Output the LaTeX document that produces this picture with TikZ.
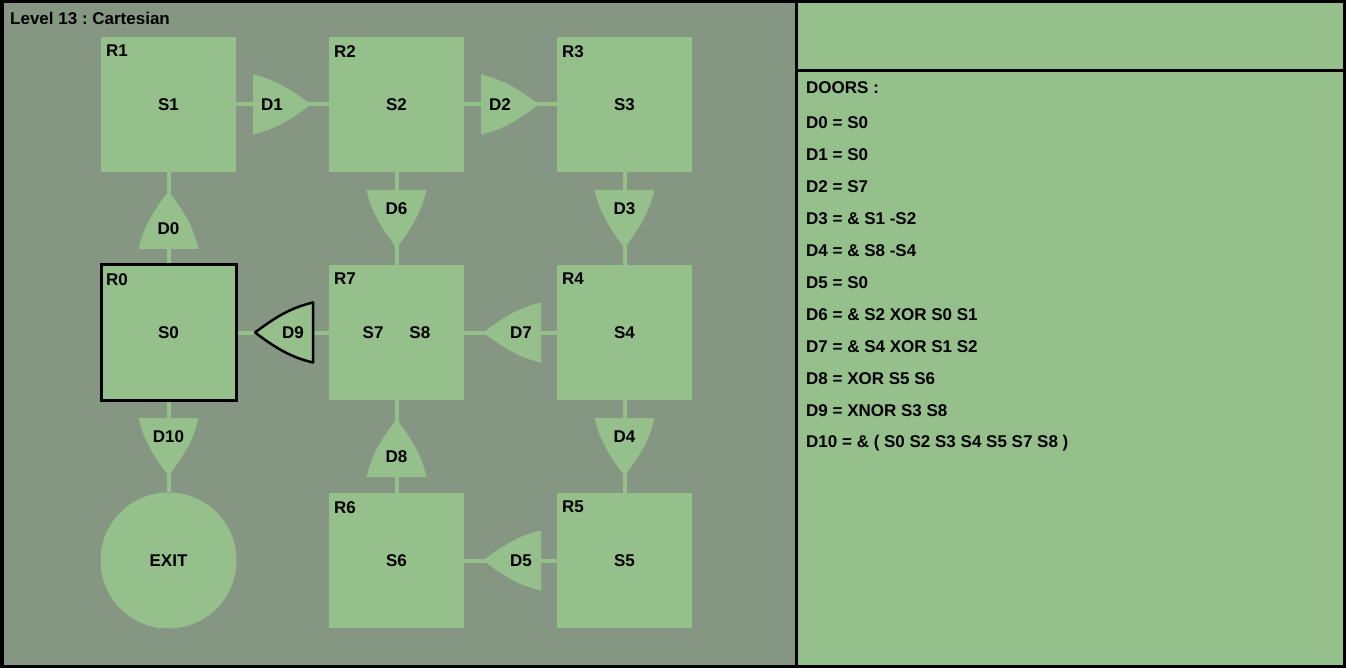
\documentclass[tikz,border=0pt]{standalone}
\usepackage{fontspec}
\setmainfont{Liberation Sans}
\usetikzlibrary{positioning}
\frenchspacing

\definecolor{panelgray}{RGB}{133,151,131}
\definecolor{roomgreen}{RGB}{149,192,139}

\begin{document}
\begin{tikzpicture}[x=1pt, y=-1pt,
    every node/.style={font=\fontsize{17}{20}\selectfont\bfseries, inner sep=0pt},
    room/.style={fill=roomgreen, minimum width=135pt, minimum height=135pt},
    startroom/.style={room, draw=black, line width=3pt},
    roomname/.style={anchor=north west},
    link/.style={draw=roomgreen, line width=4pt},
    door/.pic={\path[pic actions] (0,30) .. controls (20,25.2) and (34,18) .. (58,0)
        .. controls (34,-18) and (20,-25.2) .. (0,-30) -- cycle;},
    doorfill/.style={fill=roomgreen},
    info/.style={anchor=west}]

    \useasboundingbox (0,0) rectangle (1346,668);
    % panels
    \fill[black] (0,0) rectangle (1346,668);
    \fill[panelgray] (3.5,3.5) rectangle (795,664.5);
    \fill[roomgreen] (797.5,3.5) rectangle (1342.5,69);
    \fill[roomgreen] (797.5,72) rectangle (1342.5,664.5);

    \node[anchor=west] (title) at (10,18) {Level 13 : Cartesian};

    % rooms
    \node[room] (r1) at (168.5,104.5) {S1};
    \node[room] (r2) at (396.5,104.5) {S2};
    \node[room] (r3) at (624.5,104.5) {S3};
    \node[room] (r7) at (396.5,332.5) {S7\hspace{26pt}S8};
    \node[room] (r4) at (624.5,332.5) {S4};
    \node[room] (r6) at (396.5,560.5) {S6};
    \node[room] (r5) at (624.5,560.5) {S5};
    \node[circle, fill=roomgreen, minimum size=136pt] (exit) at (168.5,560.5) {EXIT};

    % connectors
    \draw[link] (r1) -- (r2);
    \draw[link] (r2) -- (r3);
    \draw[link] (r1) -- (168.5,265);
    \draw[link] (r2) -- (r7);
    \draw[link] (r3) -- (r4);
    \draw[link] (r4) -- (r5);
    \draw[link] (168.5,400) -- (exit);
    \draw[link] (r7) -- (236,332.5);
    \draw[link] (r4) -- (r7);
    \draw[link] (r7) -- (r6);
    \draw[link] (r6) -- (r5);

    \node[startroom] (r0) at (168.5,332.5) {S0};

    \node[roomname] (r0name) at (106,273) {R0};
    \node[roomname] (r1name) at (106,45) {R1};
    \node[roomname] (r2name) at (334,45) {R2};
    \node[roomname] (r3name) at (562,45) {R3};
    \node[roomname] (r4name) at (562,273) {R4};
    \node[roomname] (r5name) at (562,501) {R5};
    \node[roomname] (r6name) at (334,501) {R6};
    \node[roomname] (r7name) at (334,273) {R7};

    % doors
    \pic[doorfill] at (253,104.5) {door};
    \pic[doorfill] at (481,104.5) {door};
    \pic[doorfill, rotate=90] at (168.5,249) {door};
    \pic[doorfill, rotate=-90] at (396.5,190) {door};
    \pic[doorfill, rotate=-90] at (624.5,190) {door};
    \pic[doorfill, rotate=-90] at (168.5,418) {door};
    \pic[doorfill, rotate=-90] at (624.5,418) {door};
    \pic[doorfill, rotate=90] at (396.5,477) {door};
    \pic[doorfill, rotate=180] at (541,332.5) {door};
    \pic[doorfill, rotate=180] at (541,560.5) {door};
    \pic[doorfill, draw=black, line width=2.5pt, line join=round, rotate=180] at (313,332.5) {door};

    \node (d0) at (168.5,229) {D0};
    \node (d1) at (272,104.5) {D1};
    \node (d2) at (500,104.5) {D2};
    \node (d3) at (624.5,209) {D3};
    \node (d4) at (624.5,437) {D4};
    \node (d5) at (521,560.5) {D5};
    \node (d6) at (396.5,209) {D6};
    \node (d7) at (521,332.5) {D7};
    \node (d8) at (396.5,457) {D8};
    \node (d9) at (293,332.5) {D9};
    \node (d10) at (168.5,437) {D10};

    % door rules
    \node[info] (doors) at (806,88) {DOORS :};
    \node[info] (rule0) at (806,123) {D0 = S0};
    \node[info] (rule1) at (806,155) {D1 = S0};
    \node[info] (rule2) at (806,187) {D2 = S7};
    \node[info] (rule3) at (806,219) {D3 = \& S1 -S2};
    \node[info] (rule4) at (806,251) {D4 = \& S8 -S4};
    \node[info] (rule5) at (806,283) {D5 = S0};
    \node[info] (rule6) at (806,315) {D6 = \& S2 XOR S0 S1};
    \node[info] (rule7) at (806,347) {D7 = \& S4 XOR S1 S2};
    \node[info] (rule8) at (806,379) {D8 = XOR S5 S6};
    \node[info] (rule9) at (806,411) {D9 = XNOR S3 S8};
    \node[info] (rule10) at (806,443) {D10 = \& ( S0 S2 S3 S4 S5 S7 S8 )};
\end{tikzpicture}
\end{document}
